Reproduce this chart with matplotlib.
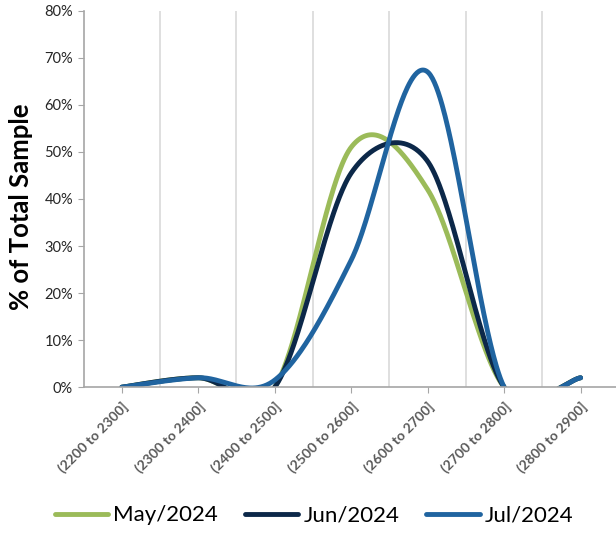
import numpy as np
import matplotlib.pyplot as plt
from matplotlib.ticker import PercentFormatter

# categorias y series (% del total)
categorias = ['(2200 to 2300]', '(2300 to 2400]', '(2400 to 2500]', '(2500 to 2600]',
              '(2600 to 2700]', '(2700 to 2800]', '(2800 to 2900]']
may_2024 = [0, 2, 0, 51, 42, 0, 2]
jun_2024 = [0, 2, 0, 45.5, 48, 0, 2]
jul_2024 = [0, 2, 1.5, 27, 67, 0, 2]

series = [('May/2024', may_2024, '#9BBB59'),
          ('Jun/2024', jun_2024, '#0C2849'),
          ('Jul/2024', jul_2024, '#2064A0')]

# escala aproximada en pixeles (para el suavizado tipo Excel)
PX_X = 76.5
PX_Y = 4.7


def suavizar(y, n=80):
    # curva suavizada tipo Excel: Bezier con tangentes limitadas a media cuerda
    p = np.column_stack([np.arange(len(y)) * PX_X, np.asarray(y, dtype=float) * PX_Y])
    m = len(p)
    xs, ys = [], []
    for i in range(m - 1):
        a = p[max(i - 1, 0)]
        b = p[i]
        c = p[i + 1]
        d = p[min(i + 2, m - 1)]
        cuerda = np.hypot(*(c - b))
        t1 = (c - a) / 6
        t2 = (d - b) / 6
        if np.hypot(*t1) > cuerda / 2:
            t1 = t1 * (cuerda / 2) / np.hypot(*t1)
        if np.hypot(*t2) > cuerda / 2:
            t2 = t2 * (cuerda / 2) / np.hypot(*t2)
        p1 = b + t1
        p2 = c - t2
        t = np.linspace(0, 1, n)[:, None]
        q = (1 - t) ** 3 * b + 3 * (1 - t) ** 2 * t * p1 + 3 * (1 - t) * t ** 2 * p2 + t ** 3 * c
        xs.extend(q[:, 0] / PX_X)
        ys.extend(q[:, 1] / PX_Y)
    return np.array(xs), np.array(ys)


plt.rcParams['font.family'] = ['Lato', 'DejaVu Sans']

fig = plt.figure(figsize=(6.16, 5.40), dpi=100)
ax = fig.add_axes([0.1356, 0.283, 0.869, 0.697])

for nombre, valores, color in series:
    xs, ys = suavizar(valores)
    ax.plot(xs, ys, color=color, linewidth=3.5, label=nombre, solid_capstyle='round')

ax.set_xlim(-0.5, len(categorias) - 0.5)
ax.set_ylim(0, 80)
ax.set_yticks(np.arange(0, 81, 10))
ax.yaxis.set_major_formatter(PercentFormatter(decimals=0))
ax.set_xticks(range(len(categorias)))
ax.set_xticklabels(categorias, rotation=45, ha='right', rotation_mode='anchor',
                   fontsize=10, fontweight='bold', color='#595959')
ax.set_xticks(np.arange(0.5, len(categorias) - 0.5, 1), minor=True)
ax.grid(True, axis='x', which='minor', color='#D9D9D9', linewidth=1.2)
ax.tick_params(axis='x', which='minor', length=0)
ax.tick_params(axis='x', which='major', length=4, color='#A6A6A6', pad=5)
ax.tick_params(axis='y', length=4, color='#A6A6A6', labelsize=10.5, labelcolor='#262626')

for lado in ['top', 'right']:
    ax.spines[lado].set_visible(False)
for lado in ['left', 'bottom']:
    ax.spines[lado].set_color('#A6A6A6')
    ax.spines[lado].set_linewidth(1.2)

ax.set_ylabel('% of Total Sample', fontsize=18.5, fontweight='bold')
ax.yaxis.set_label_coords(-0.094, 0.48)

fig.legend(loc='lower center', bbox_to_anchor=(0.51, -0.01), ncol=3, frameon=False,
           fontsize=16, handlelength=2.4, handletextpad=0.25, columnspacing=1.2)

fig.savefig('out.png', dpi=100)
